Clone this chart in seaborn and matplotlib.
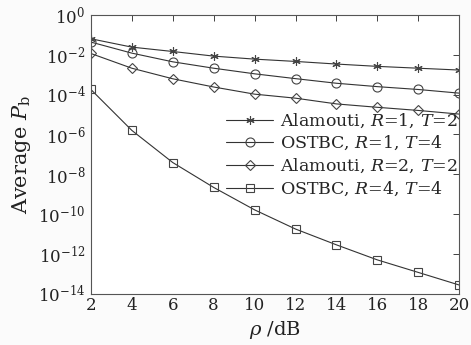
import matplotlib
matplotlib.use("Agg")
import matplotlib.pyplot as plt
import seaborn as sns
import numpy as np
import pandas as pd
from matplotlib.ticker import LogFormatterSciNotation, FixedLocator

snr = [2, 4, 6, 8, 10, 12, 14, 16, 18, 20]
alamouti_r1 = [0.063, 0.024, 0.0145, 0.0085, 0.006, 0.0046, 0.0034, 0.0026, 0.0021, 0.0017]
ostbc_r1 = [0.043, 0.012, 0.0044, 0.0021, 0.0011, 6.3e-4, 3.7e-4, 2.5e-4, 1.8e-4, 1.18e-4]
alamouti_r2 = [0.0115, 0.0021, 6.2e-4, 2.4e-4, 1.05e-4, 6.6e-5, 3.4e-5, 2.3e-5, 1.6e-5, 1.05e-5]
ostbc_r4 = [1.8e-4, 1.6e-6, 3.9e-8, 2.2e-9, 1.65e-10, 1.8e-11, 2.9e-12, 5.1e-13, 1.2e-13, 2.8e-14]

labels = [r"Alamouti, $R$=1, $T$=2", r"OSTBC, $R$=1, $T$=4",
          r"Alamouti, $R$=2, $T$=2", r"OSTBC, $R$=4, $T$=4"]
series = [alamouti_r1, ostbc_r1, alamouti_r2, ostbc_r4]
markers = [(6, 2, 0), "o", "D", "s"]
msizes = [6, 6.5, 5, 6]

sns.set_style("white")
plt.rcParams["font.family"] = ["DejaVu Serif"]
plt.rcParams["mathtext.fontset"] = "dejavuserif"

fig = plt.figure(figsize=(4.71, 3.45), dpi=100, facecolor="#fbfbfb")
ax = fig.add_axes([0.193, 0.148, 0.782, 0.809])
ax.set_facecolor("white")

for lab, vals, mk, ms in zip(labels, series, markers, msizes):
    df = pd.DataFrame({"snr": snr, "pb": vals})
    sns.lineplot(data=df, x="snr", y="pb", ax=ax, label=lab, color="#333333",
                 linewidth=0.8, marker=mk, markersize=ms, markerfacecolor="none",
                 markeredgecolor="#444444", markeredgewidth=0.8)

ax.set_yscale("log")
ax.set_xlim(2, 20)
ax.set_ylim(1e-14, 1)
ax.xaxis.set_major_locator(FixedLocator(snr))
ax.yaxis.set_major_locator(FixedLocator([10.0 ** -k for k in range(0, 15, 2)]))
ax.yaxis.set_minor_locator(FixedLocator([]))
ax.yaxis.set_major_formatter(LogFormatterSciNotation())
ax.tick_params(direction="in", top=True, right=True, length=4, width=0.6,
               labelsize=12, colors="#222222", pad=2)
ax.tick_params(axis="y", pad=4)
for s in ax.spines.values():
    s.set_color("#555555")
    s.set_linewidth(0.8)

ax.set_xlabel(r"$\rho$ /dB", fontsize=14, labelpad=4, color="#222222")
ax.set_ylabel(r"Average $P_{\mathrm{b}}$", fontsize=15, labelpad=4, color="#222222")

leg = ax.legend(loc="upper right", bbox_to_anchor=(1.0, 0.66), frameon=False,
                fontsize=12.5, handlelength=2.7, handletextpad=0.4,
                labelspacing=0.25, borderpad=0.1, borderaxespad=0.0)

fig.savefig("out.png", dpi=100, facecolor=fig.get_facecolor())
